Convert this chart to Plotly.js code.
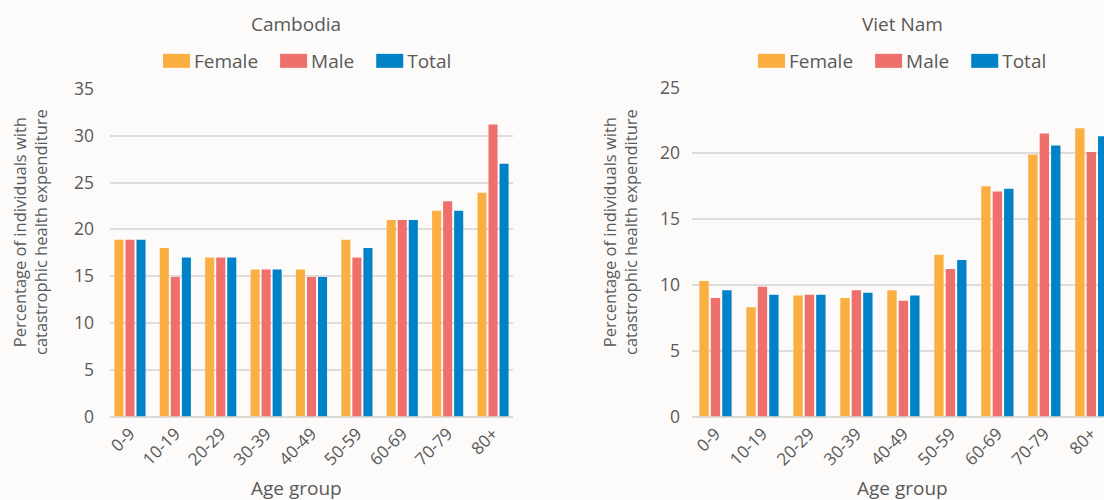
<!DOCTYPE html>
<html>
<head>
<meta charset="utf-8">
<script src="https://cdn.plot.ly/plotly-3.0.1.min.js"></script>
<style>
  html, body { margin: 0; padding: 0; background: #fcfbf9; }
  #chart { width: 1104px; height: 500px; }
</style>
</head>
<body>
<div id="chart"></div>
<script>
// ---- data ----
const categories = ['0-9', '10-19', '20-29', '30-39', '40-49', '50-59', '60-69', '70-79', '80+'];
const seriesNames = ['Female', 'Male', 'Total'];

const cambodiaFemale = [18.9, 18.0, 17.0, 15.7, 15.7, 18.9, 21.0, 22.0, 23.9];
const cambodiaMale   = [18.9, 14.9, 17.0, 15.7, 14.9, 17.0, 21.0, 23.0, 31.2];
const cambodiaTotal  = [18.9, 17.0, 17.0, 15.7, 14.9, 18.0, 21.0, 22.0, 27.0];

const vietFemale = [10.3, 8.3, 9.2, 9.0, 9.6, 12.3, 17.5, 19.9, 21.9];
const vietMale   = [9.0, 9.85, 9.25, 9.6, 8.8, 11.2, 17.1, 21.5, 20.1];
const vietTotal  = [9.6, 9.25, 9.25, 9.4, 9.2, 11.9, 17.3, 20.6, 21.3];

const countryTitles = ['Cambodia', 'Viet Nam'];
const xTitle = 'Age group';
const yTitle = 'Percentage of individuals with<br>catastrophic health expenditure';
const cambodiaTicks = [0, 5, 10, 15, 20, 25, 30, 35];
const vietTicks = [0, 5, 10, 15, 20, 25];

// ---- style ----
const colors = ['#fbaf41', '#ef6f6c', '#0082c8'];
const FONT = '"Open Sans", "Noto Sans", sans-serif';
const TXT = '#595959';
const W = 1104, H = 500;
const px = v => v / W;
const py = v => (H - v) / H;

const cambodiaSeries = [cambodiaFemale, cambodiaMale, cambodiaTotal];
const vietSeries = [vietFemale, vietMale, vietTotal];

const traces = [];
seriesNames.forEach((name, i) => {
  traces.push({
    type: 'bar', name: name, x: categories, y: cambodiaSeries[i],
    marker: { color: colors[i] }, xaxis: 'x', yaxis: 'y',
    legend: 'legend', hoverinfo: 'x+y+name'
  });
});
seriesNames.forEach((name, i) => {
  traces.push({
    type: 'bar', name: name, x: categories, y: vietSeries[i],
    marker: { color: colors[i] }, xaxis: 'x2', yaxis: 'y2',
    legend: 'legend2', hoverinfo: 'x+y+name'
  });
});

const xCommon = {
  type: 'category', tickangle: -45, showgrid: false, zeroline: false,
  showline: false, ticks: '', ticklabelstandoff: 3,
  tickfont: { family: FONT, size: 17, color: TXT }, fixedrange: true
};
const yCommon = {
  showgrid: true, gridcolor: '#dfdddb', gridwidth: 2,
  zeroline: true, zerolinecolor: '#dcdad7', zerolinewidth: 2,
  showline: false, ticks: '',
  tickfont: { family: FONT, size: 17.5, color: TXT }, fixedrange: true
};

const legendCommon = {
  orientation: 'h', xanchor: 'left', yanchor: 'middle', itemwidth: 38,
  bgcolor: 'rgba(0,0,0,0)', font: { family: FONT, size: 19, color: TXT },
  itemclick: false, itemdoubleclick: false
};

const titleFont = { family: FONT, size: 19, color: TXT };
const yTitleFont = { family: FONT, size: 16.5, color: TXT };

const layout = {
  width: W, height: H,
  paper_bgcolor: '#fcfbf9', plot_bgcolor: '#fcfbf9',
  margin: { l: 0, r: 0, t: 0, b: 0 },
  barmode: 'group', bargap: 0.27, bargroupgap: 0.18,
  font: { family: FONT, color: TXT },
  xaxis: Object.assign({}, xCommon, { domain: [px(110), px(513)], range: [-0.44, 8.44], anchor: 'y' }),
  yaxis: Object.assign({}, yCommon, { domain: [py(416.5), py(89)], range: [0, 35], tickvals: cambodiaTicks, ticklabelstandoff: 15, anchor: 'x' }),
  xaxis2: Object.assign({}, xCommon, { domain: [px(692), 1], range: [-0.5, 8.27], anchor: 'y2' }),
  yaxis2: Object.assign({}, yCommon, { domain: [py(416.5), py(87.5)], range: [0, 25], tickvals: vietTicks, ticklabelstandoff: 11, anchor: 'x2' }),
  legend: Object.assign({}, legendCommon, { x: px(146), y: py(61) }),
  legend2: Object.assign({}, legendCommon, { x: px(741), y: py(61) }),
  showlegend: true,
  annotations: [
    { text: countryTitles[0], x: px(296), y: py(24), xref: 'paper', yref: 'paper', showarrow: false, xanchor: 'center', yanchor: 'middle', font: titleFont },
    { text: countryTitles[1], x: px(902), y: py(24), xref: 'paper', yref: 'paper', showarrow: false, xanchor: 'center', yanchor: 'middle', font: titleFont },
    { text: xTitle, x: px(296), y: py(488), xref: 'paper', yref: 'paper', showarrow: false, xanchor: 'center', yanchor: 'middle', font: titleFont },
    { text: xTitle, x: px(902), y: py(488), xref: 'paper', yref: 'paper', showarrow: false, xanchor: 'center', yanchor: 'middle', font: titleFont },
    { text: yTitle, textangle: -90, x: px(30), y: py(232), xref: 'paper', yref: 'paper', showarrow: false, xanchor: 'center', yanchor: 'middle', font: yTitleFont },
    { text: yTitle, textangle: -90, x: px(620), y: py(232), xref: 'paper', yref: 'paper', showarrow: false, xanchor: 'center', yanchor: 'middle', font: yTitleFont }
  ]
};

Plotly.newPlot('chart', traces, layout, { displayModeBar: false, staticPlot: true }).then(gd => {
  // reshape legend swatches (both legends) into the wide rectangles of the
  // reference, ending 4px before the legend text
  gd.querySelectorAll('g.traces').forEach(item => {
    const txt = item.querySelector('text.legendtext');
    const textX = txt ? parseFloat(txt.getAttribute('x')) || 48 : 48;
    const center = textX / 2;
    const right = textX - 4 - center;
    const left = right - 27;
    item.querySelectorAll('.legendpoints path').forEach(p => {
      p.setAttribute('d', 'M' + right + ',7H' + left + 'V-7H' + right + 'Z');
    });
  });
});
</script>
</body>
</html>
